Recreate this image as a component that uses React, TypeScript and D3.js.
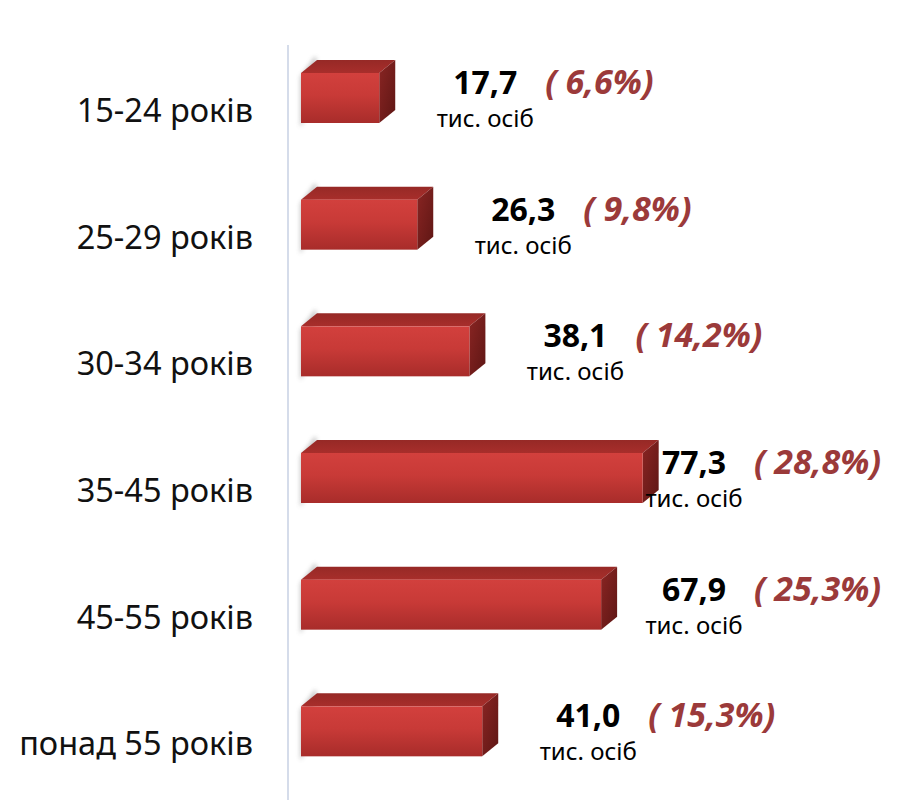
import React from "react";
import * as d3 from "d3";

const categories = ["15-24 років", "25-29 років", "30-34 років", "35-45 років", "45-55 років", "понад 55 років"];
const values = [17.7, 26.3, 38.1, 77.3, 67.9, 41.0];
const shares = [6.6, 9.8, 14.2, 28.8, 25.3, 15.3];
const unitLabel = "тис. осіб";

const W = 897;
const H = 802;
const FONT = "'Noto Sans', 'Open Sans', sans-serif";

const fmt = (v: number) => v.toFixed(1).replace(".", ",");

export default function App() {
  const x = d3.scaleLinear().domain([0, 80]).range([301, 301 + 80 * 4.42]);
  const y = d3.scaleBand<string>().domain(categories).range([48, 808]).paddingInner(0);
  const dx = 16;
  const dy = 13;
  const faceTop = 25;
  const faceH = 50;

  return (
    <svg width={W} height={H} style={{ position: "absolute", left: 0, top: 0, background: "#fff" }}>
      <defs>
        <linearGradient id="front" x1="0" y1="0" x2="0" y2="1">
          <stop offset="0" stopColor="#d2403d" />
          <stop offset="0.45" stopColor="#c83a37" />
          <stop offset="1" stopColor="#a82c2a" />
        </linearGradient>
        <linearGradient id="topf" x1="0" y1="0" x2="0" y2="1">
          <stop offset="0" stopColor="#962926" />
          <stop offset="1" stopColor="#a82e2b" />
        </linearGradient>
        <linearGradient id="side" x1="0" y1="0" x2="1" y2="1">
          <stop offset="0" stopColor="#8a2523" />
          <stop offset="1" stopColor="#5e1614" />
        </linearGradient>
        <filter id="blur" x="-50%" y="-50%" width="200%" height="200%">
          <feGaussianBlur stdDeviation="2" />
        </filter>
      </defs>
      <line x1={288} x2={288} y1={45} y2={800} stroke="#d5dcea" strokeWidth={2} />
      {categories.map((c, i) => {
        const b = y(c)!;
        const x0 = x(0);
        const x1 = x(values[i]);
        const t = b + faceTop;
        const bt = t + faceH;
        const labelCx = Math.min(x1 + dx + 90, 694);
        const valBase = t + 21;
        return (
          <g key={c}>
            <text x={253} y={b + 74} textAnchor="end" fontFamily={FONT} fontSize={32.5} fill="#111">
              {c}
            </text>
            <path
              d={`M${x0 - 1},${t + 4} L${x0 + dx - 2},${t - dy - 4} L${x0 + dx},${t - dy} L${x0 + 2},${bt} L${x0 - 1},${bt + 4} Z`}
              fill="#888"
              opacity={0.45}
              filter="url(#blur)"
            />
            <polygon points={`${x0},${t} ${x0 + dx},${t - dy} ${x1 + dx},${t - dy} ${x1},${t}`} fill="url(#topf)" />
            <polygon points={`${x1},${t} ${x1 + dx},${t - dy} ${x1 + dx},${bt - dy} ${x1},${bt}`} fill="url(#side)" />
            <rect x={x0} y={t} width={x1 - x0} height={faceH} fill="url(#front)" />
            <text x={labelCx} y={valBase} textAnchor="middle" fontFamily={FONT} fontWeight={700} fontSize={32} fill="#000">
              {fmt(values[i])}
            </text>
            <text x={labelCx} y={valBase + 33} textAnchor="middle" fontFamily={FONT} fontSize={24} fill="#000">
              {unitLabel}
            </text>
            <text
              x={labelCx + 60}
              y={valBase}
              textAnchor="start"
              fontFamily={FONT}
              fontWeight={700}
              fontStyle="italic"
              fontSize={34}
              fill="#9b3a3a"
            >
              {`( ${fmt(shares[i])}%)`}
            </text>
          </g>
        );
      })}
    </svg>
  );
}
